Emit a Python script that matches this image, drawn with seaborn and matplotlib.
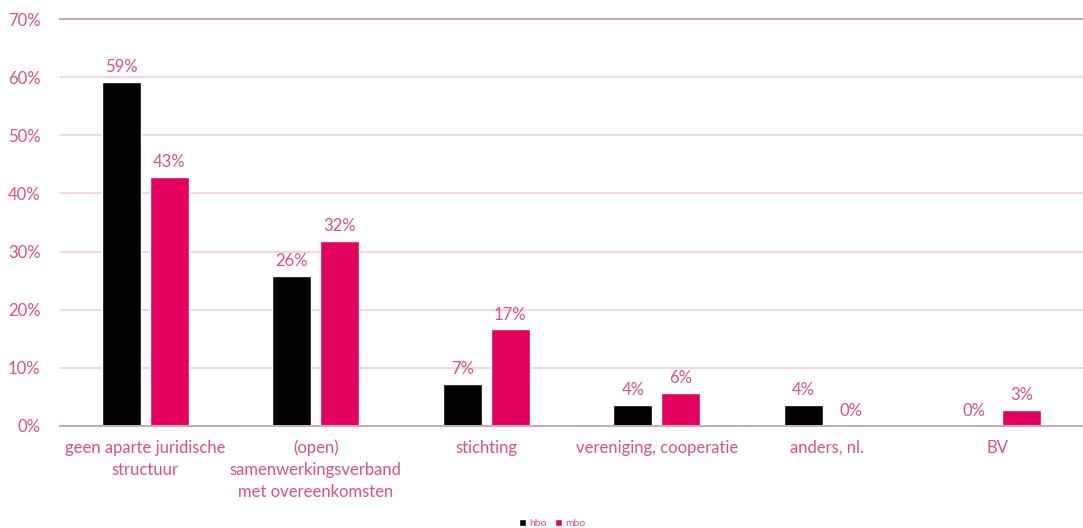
import matplotlib.pyplot as plt
import pandas as pd
import seaborn as sns

# Rechtsvorm van de samenwerking, hbo vs mbo
categorieen = ['geen aparte juridische\nstructuur',
               '(open)\nsamenwerkingsverband\nmet overeenkomsten',
               'stichting',
               'vereniging, cooperatie',
               'anders, nl.',
               'BV']
hbo = [0.592, 0.258, 0.072, 0.036, 0.036, 0.0]
mbo = [0.428, 0.318, 0.166, 0.056, 0.0, 0.027]
reeksen = ['hbo', 'mbo']

tekstkleur = '#D9508A'
lijnkleur = '#CBAAB8'
gridkleur = '#F4D5E1'
kleuren = ['#000000', '#E3005F']

df = pd.DataFrame({
    'categorie': categorieen * 2,
    'reeks': ['hbo'] * len(hbo) + ['mbo'] * len(mbo),
    'waarde': hbo + mbo,
})

sns.set_style('white')
plt.rcParams['font.family'] = ['Lato', 'DejaVu Sans']

fig = plt.figure(figsize=(10.83, 5.28), dpi=100)
ax = fig.add_axes([60 / 1083, 1 - 426 / 528, 1 - 60 / 1083, (426 - 19) / 528])

sns.barplot(data=df, x='categorie', y='waarde', hue='reeks', hue_order=reeksen,
            palette=kleuren, saturation=1, width=0.56, gap=0.18, ax=ax, legend=True)

# Labels boven de staven
for container, waarden in zip(ax.containers, [hbo, mbo]):
    ax.bar_label(container, labels=[f'{round(v * 100)}%' for v in waarden],
                 padding=5, color=tekstkleur, fontsize=12)

ax.set_ylim(0, 0.7)
ax.set_yticks([i / 10 for i in range(8)])
ax.set_yticklabels([f'{i * 10}%' for i in range(8)])
ax.set_xlim(-0.5, len(categorieen) - 0.5)
ax.yaxis.grid(True, color=gridkleur, linewidth=1.5)
ax.set_axisbelow(True)

for kant in ['left', 'right']:
    ax.spines[kant].set_visible(False)
for kant in ['top', 'bottom']:
    ax.spines[kant].set_color(lijnkleur)
    ax.spines[kant].set_linewidth(1.5)

ax.tick_params(axis='both', length=0, colors=tekstkleur, labelsize=12)
ax.tick_params(axis='y', pad=14)
ax.tick_params(axis='x', pad=10)
for lbl in ax.get_xticklabels():
    lbl.set_linespacing(1.45)
ax.set_xlabel('')
ax.set_ylabel('')

# Legenda onderaan
handles, labels = ax.get_legend_handles_labels()
ax.legend_.remove()
fig.legend(handles, labels, loc='lower center', bbox_to_anchor=(0.51, -0.018), ncol=2,
           frameon=False, fontsize=7.5, handlelength=0.7, handleheight=0.7,
           handletextpad=0.3, columnspacing=0.8, labelcolor=tekstkleur)

plt.savefig('out.png', dpi=100)
plt.close()
